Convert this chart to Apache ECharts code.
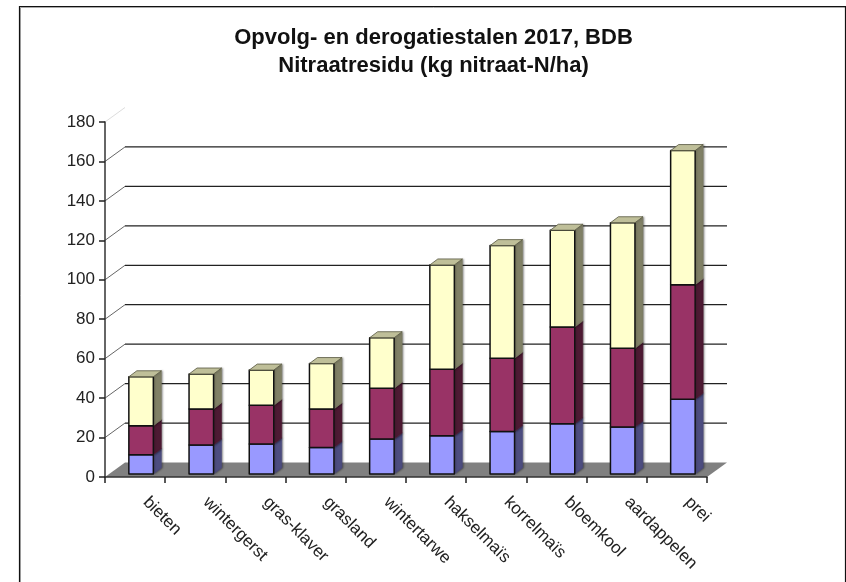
<!DOCTYPE html>
<html><head><meta charset="utf-8">
<style>html,body{margin:0;padding:0;background:#fff}#c{width:846px;height:582px}</style>
<script src="https://cdn.jsdelivr.net/npm/echarts@6/dist/echarts.min.js"></script>
</head><body><div id="c"></div>
<script>
const categories = ['bieten','wintergerst','gras-klaver','grasland','wintertarwe','hakselmaïs','korrelmaïs','bloemkool','aardappelen','prei'];
const layerBottom = [9.8,14.7,15.2,13.5,17.7,19.4,21.5,25.5,23.8,37.9];
const layerMiddle = [14.7,18.3,19.6,19.5,25.8,33.7,37.2,49.0,39.9,58.1];
const layerTop    = [24.8,17.7,17.9,23.0,25.6,52.9,57.1,49.1,63.7,68.0];
const gridTicks = [20,40,60,80,100,120,140,160,180];
const titleText = 'Opvolg- en derogatiestalen 2017, BDB\nNitraatresidu (kg nitraat-N/ha)';

const FONT = '"Liberation Sans", Arial, sans-serif';
const WALL_DX = 20, WALL_DY = -14.5;    // depth of the floor / back wall
const BAR_DX = 6, BAR_DY = -3;          // bar front offset inside the floor
const BAR_W = 24.5, DEPTH_X = 8, DEPTH_Y = -6;

function poly(points, fill, extra) {
  return {type:'polygon', shape:{points}, style:Object.assign({fill, stroke:'#111', lineWidth:1, lineJoin:'round'}, extra||{})};
}
function barSeries(name, values, bases, front, side, topFace) {
  return {
    type:'custom', name, z:4, coordinateSystem:'cartesian2d', clip:false, silent:true,
    data: values.map((v,i)=>[i, bases[i], bases[i]+v]),
    encode:{x:0,y:[1,2]},
    renderItem(params, api){
      const a = api.coord([api.value(0), api.value(1)]);
      const b = api.coord([api.value(0), api.value(2)]);
      const x0 = a[0] + BAR_DX - BAR_W/2, x1 = x0 + BAR_W;
      const y0 = a[1] + BAR_DY, y1 = b[1] + BAR_DY;
      const kids = [
        poly([[x1,y0],[x1+DEPTH_X,y0+DEPTH_Y],[x1+DEPTH_X,y1+DEPTH_Y],[x1,y1]], side,
             {stroke:side, lineWidth:0.6, shadowColor:'rgba(0,0,0,0.4)', shadowBlur:2, shadowOffsetX:1}),
        poly([[x0,y0],[x1,y0],[x1,y1],[x0,y1]], front, {lineWidth:1.5})
      ];
      if (topFace) kids.push(poly([[x0,y1],[x1,y1],[x1+DEPTH_X,y1+DEPTH_Y],[x0+DEPTH_X,y1+DEPTH_Y]], topFace, {stroke:'#55553f', lineWidth:0.8}));
      return {type:'group', children:kids};
    }
  };
}
const base1 = layerBottom.map(()=>0);
const base2 = layerBottom.slice();
const base3 = layerBottom.map((v,i)=>v+layerMiddle[i]);

const option = {
  animation:false,
  backgroundColor:'#fff',
  title:{text:titleText,left:428.5,top:19,textAlign:'center',
    textStyle:{fontFamily:FONT,fontSize:22,fontWeight:'bold',color:'#111',lineHeight:28}},
  grid:{left:105,right:139,top:122,bottom:105,containLabel:false},
  xAxis:{type:'category',data:categories,z:6,
    axisLine:{lineStyle:{color:'#333',width:1.5}},
    axisTick:{show:true,alignWithLabel:false,length:6,lineStyle:{color:'#222',width:1.5}},
    axisLabel:{rotate:-45,interval:0,margin:12,padding:[0,0,0,15],fontFamily:FONT,fontSize:17,color:'#222'}},
  yAxis:{type:'value',min:0,max:180,interval:20,z:6,
    axisLine:{show:true,lineStyle:{color:'#333',width:1.5}},
    axisTick:{show:true,length:6,lineStyle:{color:'#222',width:1.5}},
    splitLine:{show:false},
    axisLabel:{margin:10,padding:[2,0,0,0],fontFamily:FONT,fontSize:17,color:'#222'}},
  graphic:[
    {type:'polyline',silent:true,z:10,shape:{points:[[20.5,600],[20.5,7.5],[846,7.5]]},style:{fill:'none',stroke:'#aaa',lineWidth:1}},
    {type:'polyline',silent:true,z:10,shape:{points:[[19.5,600],[19.5,6.5],[845.5,6.5],[845.5,600]]},style:{fill:'none',stroke:'#111',lineWidth:1.2}}
  ],
  series:[
    {type:'custom',name:'vloer',z:1,silent:true,clip:false,data:[[0]],encode:{x:0},
     renderItem(params, api){
       const c = params.coordSys, yb = c.y + c.height, x0 = c.x, x1 = c.x + c.width;
       return {type:'polygon',shape:{points:[[x0,yb],[x1,yb],[x1+WALL_DX,yb+WALL_DY],[x0+WALL_DX,yb+WALL_DY]]},style:{fill:'#808080'}};
     }},
    {type:'custom',name:'raster',z:2,silent:true,clip:false,
     data:gridTicks.map(v=>[0,v]),encode:{x:0,y:1},
     renderItem(params, api){
       const c = params.coordSys, v = api.value(1), y = api.coord([0,v])[1];
       const last = v === gridTicks[gridTicks.length-1];
       const kids = [{type:'line',shape:{x1:c.x,y1:y,x2:c.x+WALL_DX,y2:y+WALL_DY},
         style:{stroke:last?'#ddd':'#666',lineWidth:1}}];
       if(!last) kids.push({type:'line',shape:{x1:c.x+WALL_DX,y1:y+WALL_DY,x2:c.x+c.width+WALL_DX,y2:y+WALL_DY},
         style:{stroke:'#222',lineWidth:1.3}});
       return {type:'group',children:kids};
     }},
    barSeries('onderlaag',layerBottom,base1,'#9999ff','#4d4d80',null),
    barSeries('middenlaag',layerMiddle,base2,'#993366','#4d1a33',null),
    barSeries('bovenlaag',layerTop,base3,'#ffffcc','#808066','#bfbf99')
  ]
};
echarts.init(document.getElementById('c'),null,{renderer:'canvas'}).setOption(option);
</script></body></html>
